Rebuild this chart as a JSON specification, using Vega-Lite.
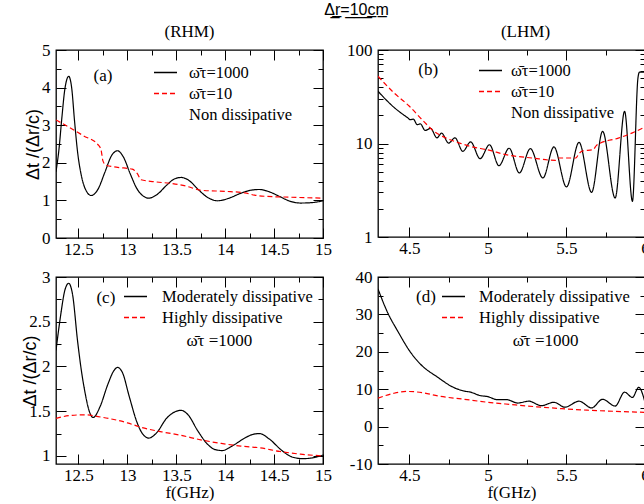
{
  "$schema": "https://vega.github.io/schema/vega-lite/v6.json",
  "background": "white",
  "padding": {"left": 21, "top": 2, "right": 0, "bottom": 0},
  "title": {"text": "Δ̲r̲=̲1̲0̲c̲m̲", "font": "Liberation Sans", "fontSize": 16, "fontWeight": "normal", "color": "black", "anchor": "middle", "offset": 4, "dx": 21},
  "columns": 2,
  "spacing": {"row": 39, "column": 55},
  "bounds": "flush",
  "resolve": {"scale": {"color": "independent", "strokeDash": "independent"}, "legend": {"color": "independent", "strokeDash": "independent"}},
  "datasets": {
    "a": [
      {"s": "ω̄τ=1000", "f": 12.27, "v": 1.76}, {"s": "ω̄τ=1000", "f": 12.30, "v": 2.35}, {"s": "ω̄τ=1000", "f": 12.33, "v": 3.2}, {"s": "ω̄τ=1000", "f": 12.36, "v": 3.95}, {"s": "ω̄τ=1000", "f": 12.40, "v": 4.30}, {"s": "ω̄τ=1000", "f": 12.43, "v": 4.0}, {"s": "ω̄τ=1000", "f": 12.46, "v": 3.1}, {"s": "ω̄τ=1000", "f": 12.49, "v": 2.3}, {"s": "ω̄τ=1000", "f": 12.53, "v": 1.65}, {"s": "ω̄τ=1000", "f": 12.58, "v": 1.25}, {"s": "ω̄τ=1000", "f": 12.63, "v": 1.13}, {"s": "ω̄τ=1000", "f": 12.70, "v": 1.3}, {"s": "ω̄τ=1000", "f": 12.77, "v": 1.75}, {"s": "ω̄τ=1000", "f": 12.84, "v": 2.2}, {"s": "ω̄τ=1000", "f": 12.90, "v": 2.32}, {"s": "ω̄τ=1000", "f": 12.96, "v": 2.15}, {"s": "ω̄τ=1000", "f": 13.03, "v": 1.7}, {"s": "ω̄τ=1000", "f": 13.10, "v": 1.3}, {"s": "ω̄τ=1000", "f": 13.16, "v": 1.12}, {"s": "ω̄τ=1000", "f": 13.22, "v": 1.06}, {"s": "ω̄τ=1000", "f": 13.30, "v": 1.15}, {"s": "ω̄τ=1000", "f": 13.40, "v": 1.4}, {"s": "ω̄τ=1000", "f": 13.48, "v": 1.57}, {"s": "ω̄τ=1000", "f": 13.55, "v": 1.61}, {"s": "ω̄τ=1000", "f": 13.63, "v": 1.53}, {"s": "ω̄τ=1000", "f": 13.72, "v": 1.3}, {"s": "ω̄τ=1000", "f": 13.82, "v": 1.08}, {"s": "ω̄τ=1000", "f": 13.92, "v": 0.99}, {"s": "ω̄τ=1000", "f": 14.03, "v": 1.05}, {"s": "ω̄τ=1000", "f": 14.15, "v": 1.18}, {"s": "ω̄τ=1000", "f": 14.26, "v": 1.27}, {"s": "ω̄τ=1000", "f": 14.35, "v": 1.29}, {"s": "ω̄τ=1000", "f": 14.45, "v": 1.23}, {"s": "ω̄τ=1000", "f": 14.56, "v": 1.1}, {"s": "ω̄τ=1000", "f": 14.66, "v": 0.98}, {"s": "ω̄τ=1000", "f": 14.77, "v": 0.93}, {"s": "ω̄τ=1000", "f": 14.88, "v": 0.94}, {"s": "ω̄τ=1000", "f": 15.0, "v": 0.99},
      {"s": "ω̄τ=10", "f": 12.27, "v": 3.14}, {"s": "ω̄τ=10", "f": 12.40, "v": 2.95}, {"s": "ω̄τ=10", "f": 12.55, "v": 2.72}, {"s": "ω̄τ=10", "f": 12.70, "v": 2.48}, {"s": "ω̄τ=10", "f": 12.73, "v": 2.35}, {"s": "ω̄τ=10", "f": 12.75, "v": 2.05}, {"s": "ω̄τ=10", "f": 12.78, "v": 1.94}, {"s": "ω̄τ=10", "f": 12.90, "v": 1.88}, {"s": "ω̄τ=10", "f": 13.05, "v": 1.83}, {"s": "ω̄τ=10", "f": 13.10, "v": 1.72}, {"s": "ω̄τ=10", "f": 13.14, "v": 1.55}, {"s": "ω̄τ=10", "f": 13.30, "v": 1.49}, {"s": "ω̄τ=10", "f": 13.45, "v": 1.45}, {"s": "ω̄τ=10", "f": 13.60, "v": 1.38}, {"s": "ω̄τ=10", "f": 13.68, "v": 1.32}, {"s": "ω̄τ=10", "f": 13.75, "v": 1.27}, {"s": "ω̄τ=10", "f": 14.00, "v": 1.24}, {"s": "ω̄τ=10", "f": 14.20, "v": 1.20}, {"s": "ω̄τ=10", "f": 14.30, "v": 1.14}, {"s": "ω̄τ=10", "f": 14.40, "v": 1.11}, {"s": "ω̄τ=10", "f": 14.60, "v": 1.09}, {"s": "ω̄τ=10", "f": 15.0, "v": 1.06}
    ],
    "b": [
      {"s": "ω̄τ=1000", "f": 4.30, "v": 36.2}, {"s": "ω̄τ=1000", "f": 4.35, "v": 29.5}, {"s": "ω̄τ=1000", "f": 4.40, "v": 24.5}, {"s": "ω̄τ=1000", "f": 4.45, "v": 21}, {"s": "ω̄τ=1000", "f": 4.49, "v": 18.8}, {"s": "ω̄τ=1000", "f": 4.505, "v": 18.0}, {"s": "ω̄τ=1000", "f": 4.525, "v": 18.2}, {"s": "ω̄τ=1000", "f": 4.55, "v": 15.9}, {"s": "ω̄τ=1000", "f": 4.57, "v": 16.2}, {"s": "ω̄τ=1000", "f": 4.60, "v": 13.8}, {"s": "ω̄τ=1000", "f": 4.635, "v": 14.5}, {"s": "ω̄τ=1000", "f": 4.675, "v": 11.5}, {"s": "ω̄τ=1000", "f": 4.705, "v": 12.9}, {"s": "ω̄τ=1000", "f": 4.75, "v": 10.1}, {"s": "ω̄τ=1000", "f": 4.79, "v": 11.5}, {"s": "ω̄τ=1000", "f": 4.84, "v": 8.25}, {"s": "ω̄τ=1000", "f": 4.89, "v": 10.4}, {"s": "ω̄τ=1000", "f": 4.95, "v": 6.88}, {"s": "ω̄τ=1000", "f": 5.01, "v": 9.7}, {"s": "ω̄τ=1000", "f": 5.07, "v": 5.79}, {"s": "ω̄τ=1000", "f": 5.135, "v": 8.9}, {"s": "ω̄τ=1000", "f": 5.20, "v": 4.84}, {"s": "ω̄τ=1000", "f": 5.27, "v": 8.8}, {"s": "ω̄τ=1000", "f": 5.35, "v": 4.28}, {"s": "ω̄τ=1000", "f": 5.42, "v": 9.2}, {"s": "ω̄τ=1000", "f": 5.50, "v": 3.43}, {"s": "ω̄τ=1000", "f": 5.58, "v": 10.3}, {"s": "ω̄τ=1000", "f": 5.66, "v": 3.0}, {"s": "ω̄τ=1000", "f": 5.73, "v": 13.5}, {"s": "ω̄τ=1000", "f": 5.81, "v": 2.61}, {"s": "ω̄τ=1000", "f": 5.87, "v": 22.1}, {"s": "ω̄τ=1000", "f": 5.92, "v": 2.41}, {"s": "ω̄τ=1000", "f": 5.955, "v": 50}, {"s": "ω̄τ=1000", "f": 5.965, "v": 58}, {"s": "ω̄τ=1000", "f": 6.0, "v": 58},
      {"s": "ω̄τ=10", "f": 4.30, "v": 52.4}, {"s": "ω̄τ=10", "f": 4.40, "v": 35}, {"s": "ω̄τ=10", "f": 4.50, "v": 25}, {"s": "ω̄τ=10", "f": 4.58, "v": 18}, {"s": "ω̄τ=10", "f": 4.65, "v": 13.8}, {"s": "ω̄τ=10", "f": 4.74, "v": 11.3}, {"s": "ω̄τ=10", "f": 4.82, "v": 10.1}, {"s": "ω̄τ=10", "f": 4.90, "v": 9.2}, {"s": "ω̄τ=10", "f": 4.99, "v": 8.6}, {"s": "ω̄τ=10", "f": 5.13, "v": 7.5}, {"s": "ω̄τ=10", "f": 5.28, "v": 7.0}, {"s": "ω̄τ=10", "f": 5.43, "v": 6.6}, {"s": "ω̄τ=10", "f": 5.45, "v": 7.0}, {"s": "ω̄τ=10", "f": 5.56, "v": 7.0}, {"s": "ω̄τ=10", "f": 5.58, "v": 7.8}, {"s": "ω̄τ=10", "f": 5.60, "v": 8.3}, {"s": "ω̄τ=10", "f": 5.67, "v": 8.6}, {"s": "ω̄τ=10", "f": 5.69, "v": 9.5}, {"s": "ω̄τ=10", "f": 5.71, "v": 10.0}, {"s": "ω̄τ=10", "f": 5.83, "v": 11.4}, {"s": "ω̄τ=10", "f": 5.92, "v": 13}, {"s": "ω̄τ=10", "f": 6.0, "v": 15}
    ],
    "c": [
      {"s": "Moderately dissipative", "f": 12.27, "v": 2.18}, {"s": "Moderately dissipative", "f": 12.32, "v": 2.59}, {"s": "Moderately dissipative", "f": 12.36, "v": 2.85}, {"s": "Moderately dissipative", "f": 12.40, "v": 2.93}, {"s": "Moderately dissipative", "f": 12.44, "v": 2.8}, {"s": "Moderately dissipative", "f": 12.49, "v": 2.29}, {"s": "Moderately dissipative", "f": 12.53, "v": 1.95}, {"s": "Moderately dissipative", "f": 12.57, "v": 1.69}, {"s": "Moderately dissipative", "f": 12.61, "v": 1.5}, {"s": "Moderately dissipative", "f": 12.65, "v": 1.43}, {"s": "Moderately dissipative", "f": 12.72, "v": 1.55}, {"s": "Moderately dissipative", "f": 12.80, "v": 1.8}, {"s": "Moderately dissipative", "f": 12.86, "v": 1.95}, {"s": "Moderately dissipative", "f": 12.90, "v": 1.99}, {"s": "Moderately dissipative", "f": 12.95, "v": 1.93}, {"s": "Moderately dissipative", "f": 13.02, "v": 1.66}, {"s": "Moderately dissipative", "f": 13.10, "v": 1.37}, {"s": "Moderately dissipative", "f": 13.16, "v": 1.24}, {"s": "Moderately dissipative", "f": 13.22, "v": 1.20}, {"s": "Moderately dissipative", "f": 13.30, "v": 1.26}, {"s": "Moderately dissipative", "f": 13.40, "v": 1.42}, {"s": "Moderately dissipative", "f": 13.48, "v": 1.49}, {"s": "Moderately dissipative", "f": 13.55, "v": 1.51}, {"s": "Moderately dissipative", "f": 13.62, "v": 1.46}, {"s": "Moderately dissipative", "f": 13.72, "v": 1.28}, {"s": "Moderately dissipative", "f": 13.82, "v": 1.13}, {"s": "Moderately dissipative", "f": 13.90, "v": 1.07}, {"s": "Moderately dissipative", "f": 13.97, "v": 1.06}, {"s": "Moderately dissipative", "f": 14.07, "v": 1.11}, {"s": "Moderately dissipative", "f": 14.20, "v": 1.2}, {"s": "Moderately dissipative", "f": 14.28, "v": 1.24}, {"s": "Moderately dissipative", "f": 14.35, "v": 1.25}, {"s": "Moderately dissipative", "f": 14.45, "v": 1.19}, {"s": "Moderately dissipative", "f": 14.58, "v": 1.06}, {"s": "Moderately dissipative", "f": 14.68, "v": 0.99}, {"s": "Moderately dissipative", "f": 14.79, "v": 0.97}, {"s": "Moderately dissipative", "f": 14.90, "v": 0.98}, {"s": "Moderately dissipative", "f": 15.0, "v": 1.01},
      {"s": "Highly dissipative", "f": 12.27, "v": 1.42}, {"s": "Highly dissipative", "f": 12.40, "v": 1.45}, {"s": "Highly dissipative", "f": 12.56, "v": 1.46}, {"s": "Highly dissipative", "f": 12.70, "v": 1.44}, {"s": "Highly dissipative", "f": 12.85, "v": 1.41}, {"s": "Highly dissipative", "f": 13.0, "v": 1.37}, {"s": "Highly dissipative", "f": 13.14, "v": 1.32}, {"s": "Highly dissipative", "f": 13.35, "v": 1.27}, {"s": "Highly dissipative", "f": 13.55, "v": 1.23}, {"s": "Highly dissipative", "f": 13.75, "v": 1.18}, {"s": "Highly dissipative", "f": 13.96, "v": 1.14}, {"s": "Highly dissipative", "f": 14.16, "v": 1.11}, {"s": "Highly dissipative", "f": 14.36, "v": 1.09}, {"s": "Highly dissipative", "f": 14.56, "v": 1.05}, {"s": "Highly dissipative", "f": 14.77, "v": 1.02}, {"s": "Highly dissipative", "f": 15.0, "v": 1.0}
    ],
    "d": [
      {"s": "Moderately dissipative", "f": 4.30, "v": 36.8}, {"s": "Moderately dissipative", "f": 4.36, "v": 30.6}, {"s": "Moderately dissipative", "f": 4.43, "v": 25.2}, {"s": "Moderately dissipative", "f": 4.50, "v": 20.3}, {"s": "Moderately dissipative", "f": 4.57, "v": 16.7}, {"s": "Moderately dissipative", "f": 4.68, "v": 13.2}, {"s": "Moderately dissipative", "f": 4.78, "v": 10.5}, {"s": "Moderately dissipative", "f": 4.85, "v": 9.5}, {"s": "Moderately dissipative", "f": 4.89, "v": 9.2}, {"s": "Moderately dissipative", "f": 4.95, "v": 8.3}, {"s": "Moderately dissipative", "f": 5.00, "v": 8.0}, {"s": "Moderately dissipative", "f": 5.06, "v": 7.2}, {"s": "Moderately dissipative", "f": 5.12, "v": 7.2}, {"s": "Moderately dissipative", "f": 5.19, "v": 6.3}, {"s": "Moderately dissipative", "f": 5.26, "v": 6.8}, {"s": "Moderately dissipative", "f": 5.34, "v": 5.6}, {"s": "Moderately dissipative", "f": 5.42, "v": 6.5}, {"s": "Moderately dissipative", "f": 5.49, "v": 5.2}, {"s": "Moderately dissipative", "f": 5.58, "v": 6.8}, {"s": "Moderately dissipative", "f": 5.66, "v": 5.0}, {"s": "Moderately dissipative", "f": 5.73, "v": 7.3}, {"s": "Moderately dissipative", "f": 5.81, "v": 5.5}, {"s": "Moderately dissipative", "f": 5.87, "v": 9.2}, {"s": "Moderately dissipative", "f": 5.92, "v": 7.8}, {"s": "Moderately dissipative", "f": 5.96, "v": 10.5}, {"s": "Moderately dissipative", "f": 6.0, "v": 6.5},
      {"s": "Highly dissipative", "f": 4.30, "v": 7.6}, {"s": "Highly dissipative", "f": 4.40, "v": 8.9}, {"s": "Highly dissipative", "f": 4.48, "v": 9.4}, {"s": "Highly dissipative", "f": 4.58, "v": 9.1}, {"s": "Highly dissipative", "f": 4.68, "v": 8.2}, {"s": "Highly dissipative", "f": 4.85, "v": 7.3}, {"s": "Highly dissipative", "f": 5.0, "v": 6.5}, {"s": "Highly dissipative", "f": 5.15, "v": 5.9}, {"s": "Highly dissipative", "f": 5.31, "v": 5.3}, {"s": "Highly dissipative", "f": 5.47, "v": 4.8}, {"s": "Highly dissipative", "f": 5.63, "v": 4.4}, {"s": "Highly dissipative", "f": 5.8, "v": 4.1}, {"s": "Highly dissipative", "f": 6.0, "v": 3.8}
    ],
    "labels": [
      {"p": "a", "f": 12.75, "v": 4.32, "t": "(a)"}, {"p": "b", "f": 4.62, "v": 61.5, "t": "(b)"},
      {"p": "c", "f": 12.78, "v": 2.77, "t": "(c)"}, {"p": "c", "f": 13.94, "v": 2.28, "t": "ω̄τ =1000"},
      {"p": "d", "f": 4.605, "v": 34.6, "t": "(d)"}, {"p": "d", "f": 5.367, "v": 22.9, "t": "ω̄τ =1000"}
    ]
  },
  "concat": [
    {
      "width": 267, "height": 188,
      "title": {"text": "(RHM)", "font": "Liberation Serif", "fontSize": 17, "fontWeight": "normal", "color": "black", "offset": 0},
      "data": {"name": "a"},
      "layer": [
        {"mark": {"type": "line", "interpolate": "monotone", "strokeWidth": 1.2, "clip": true},
         "encoding": {
           "x": {"field": "f", "type": "quantitative", "scale": {"domain": [12.27, 15], "nice": false, "zero": false}, "axis": {"orient": "bottom", "values": [12.5, 13, 13.5, 14, 14.5, 15], "tickSize": -10, "labelPadding": 13, "title": null}},
           "y": {"field": "v", "type": "quantitative", "scale": {"domain": [0, 5], "nice": false, "zero": false}, "axis": {"orient": "left", "values": [0, 1, 2, 3, 4, 5], "tickSize": -10, "labelPadding": 16, "title": "Δt /(Δr/c)", "titlePadding": -1}},
           "color": {"field": "s", "type": "nominal", "scale": {"domain": ["ω̄τ=1000", "ω̄τ=10", "Non dissipative"], "range": ["black", "red", "transparent"]}, "legend": {"orient": "none", "legendX": 97, "legendY": 10, "title": null, "labelOffset": 11}},
           "strokeDash": {"field": "s", "type": "nominal", "scale": {"domain": ["ω̄τ=1000", "ω̄τ=10", "Non dissipative"], "range": [[1, 0], [5, 3], [1, 0]]}, "legend": {"orient": "none", "legendX": 97, "legendY": 10, "title": null, "labelOffset": 11}}
         }},
        {"data": {"name": "labels"}, "transform": [{"filter": "datum.p === 'a'"}], "mark": {"type": "text", "font": "Liberation Serif", "fontSize": 17, "color": "black"}, "encoding": {"x": {"field": "f", "type": "quantitative", "axis": null}, "y": {"field": "v", "type": "quantitative", "axis": null}, "text": {"field": "t"}}},
        {"mark": {"type": "line", "opacity": 0}, "encoding": {"x": {"field": "f", "type": "quantitative", "axis": {"orient": "top", "values": [12.5, 13, 13.5, 14, 14.5, 15], "tickSize": -10, "labels": false, "title": null}}, "y": {"field": "v", "type": "quantitative", "axis": {"orient": "right", "values": [0, 1, 2, 3, 4, 5], "tickSize": -10, "labels": false, "title": null}}}},
        {"mark": {"type": "line", "opacity": 0}, "encoding": {"x": {"field": "f", "type": "quantitative", "axis": {"orient": "bottom", "values": [12.75, 13.25, 13.75, 14.25, 14.75], "tickSize": -5, "labels": false, "title": null}}, "y": {"field": "v", "type": "quantitative", "axis": {"orient": "left", "values": [0.5, 1.5, 2.5, 3.5, 4.5], "tickSize": -5, "labels": false, "title": null}}}},
        {"mark": {"type": "line", "opacity": 0}, "encoding": {"x": {"field": "f", "type": "quantitative", "axis": {"orient": "top", "values": [12.75, 13.25, 13.75, 14.25, 14.75], "tickSize": -5, "labels": false, "title": null}}, "y": {"field": "v", "type": "quantitative", "axis": {"orient": "right", "values": [0.5, 1.5, 2.5, 3.5, 4.5], "tickSize": -5, "labels": false, "title": null}}}}
      ],
      "resolve": {"axis": {"x": "independent", "y": "independent"}}
    },
    {
      "width": 267, "height": 187,
      "title": {"text": "(LHM)", "font": "Liberation Serif", "fontSize": 17, "fontWeight": "normal", "color": "black", "offset": 0, "dx": 14},
      "data": {"name": "b"},
      "layer": [
        {"mark": {"type": "line", "interpolate": "monotone", "strokeWidth": 1.2, "clip": true},
         "encoding": {
           "x": {"field": "f", "type": "quantitative", "scale": {"domain": [4.3, 6.0], "nice": false, "zero": false}, "axis": {"orient": "bottom", "values": [4.5, 5, 5.5, 6], "tickSize": -10, "labelPadding": 13, "title": null}},
           "y": {"field": "v", "type": "quantitative", "scale": {"type": "log", "domain": [1, 100], "nice": false}, "axis": {"orient": "left", "values": [1, 10, 100], "tickSize": -10, "labelPadding": 16, "title": null}},
           "color": {"field": "s", "type": "nominal", "scale": {"domain": ["ω̄τ=1000", "ω̄τ=10", "Non dissipative"], "range": ["black", "red", "transparent"]}, "legend": {"orient": "none", "legendX": 100, "legendY": 8, "title": null, "labelOffset": 8}},
           "strokeDash": {"field": "s", "type": "nominal", "scale": {"domain": ["ω̄τ=1000", "ω̄τ=10", "Non dissipative"], "range": [[1, 0], [5, 3], [1, 0]]}, "legend": {"orient": "none", "legendX": 100, "legendY": 8, "title": null, "labelOffset": 8}}
         }},
        {"data": {"name": "labels"}, "transform": [{"filter": "datum.p === 'b'"}], "mark": {"type": "text", "font": "Liberation Serif", "fontSize": 17, "color": "black"}, "encoding": {"x": {"field": "f", "type": "quantitative", "axis": null}, "y": {"field": "v", "type": "quantitative", "axis": null}, "text": {"field": "t"}}},
        {"mark": {"type": "line", "opacity": 0}, "encoding": {"x": {"field": "f", "type": "quantitative", "axis": {"orient": "top", "values": [4.5, 5, 5.5, 6], "tickSize": -10, "labels": false, "title": null}}, "y": {"field": "v", "type": "quantitative", "axis": {"orient": "right", "values": [1, 10, 100], "tickSize": -10, "labels": false, "title": null}}}},
        {"mark": {"type": "line", "opacity": 0}, "encoding": {"x": {"field": "f", "type": "quantitative", "axis": {"orient": "bottom", "values": [4.75, 5.25, 5.75], "tickSize": -5, "labels": false, "title": null}}, "y": {"field": "v", "type": "quantitative", "axis": {"orient": "left", "values": [2, 3, 4, 5, 6, 7, 8, 9, 20, 30, 40, 50, 60, 70, 80, 90], "tickSize": -5, "labels": false, "title": null}}}},
        {"mark": {"type": "line", "opacity": 0}, "encoding": {"x": {"field": "f", "type": "quantitative", "axis": {"orient": "top", "values": [4.75, 5.25, 5.75], "tickSize": -5, "labels": false, "title": null}}, "y": {"field": "v", "type": "quantitative", "axis": {"orient": "right", "values": [2, 3, 4, 5, 6, 7, 8, 9, 20, 30, 40, 50, 60, 70, 80, 90], "tickSize": -5, "labels": false, "title": null}}}}
      ],
      "resolve": {"axis": {"x": "independent", "y": "independent"}}
    },
    {
      "width": 267, "height": 187,
      "data": {"name": "c"},
      "layer": [
        {"mark": {"type": "line", "interpolate": "monotone", "strokeWidth": 1.2, "clip": true},
         "encoding": {
           "x": {"field": "f", "type": "quantitative", "scale": {"domain": [12.27, 15], "nice": false, "zero": false}, "axis": {"orient": "bottom", "values": [12.5, 13, 13.5, 14, 14.5, 15], "tickSize": -10, "labelPadding": 13, "title": "f(GHz)", "titlePadding": 1}},
           "y": {"field": "v", "type": "quantitative", "scale": {"domain": [0.91, 3], "nice": false, "zero": false}, "axis": {"orient": "left", "values": [1, 1.5, 2, 2.5, 3], "tickSize": -10, "labelPadding": 16, "title": "Δt /(Δr/c)", "titlePadding": -11}},
           "color": {"field": "s", "type": "nominal", "scale": {"domain": ["Moderately dissipative", "Highly dissipative"], "range": ["black", "red"]}, "legend": {"orient": "none", "legendX": 67, "legendY": 7, "title": null, "labelOffset": 14}},
           "strokeDash": {"field": "s", "type": "nominal", "scale": {"domain": ["Moderately dissipative", "Highly dissipative"], "range": [[1, 0], [5, 3]]}, "legend": {"orient": "none", "legendX": 67, "legendY": 7, "title": null, "labelOffset": 14}}
         }},
        {"data": {"name": "labels"}, "transform": [{"filter": "datum.p === 'c'"}], "mark": {"type": "text", "font": "Liberation Serif", "fontSize": 17, "color": "black"}, "encoding": {"x": {"field": "f", "type": "quantitative", "axis": null}, "y": {"field": "v", "type": "quantitative", "axis": null}, "text": {"field": "t"}}},
        {"mark": {"type": "line", "opacity": 0}, "encoding": {"x": {"field": "f", "type": "quantitative", "axis": {"orient": "top", "values": [12.5, 13, 13.5, 14, 14.5, 15], "tickSize": -10, "labels": false, "title": null}}, "y": {"field": "v", "type": "quantitative", "axis": {"orient": "right", "values": [1, 1.5, 2, 2.5, 3], "tickSize": -10, "labels": false, "title": null}}}},
        {"mark": {"type": "line", "opacity": 0}, "encoding": {"x": {"field": "f", "type": "quantitative", "axis": {"orient": "bottom", "values": [12.75, 13.25, 13.75, 14.25, 14.75], "tickSize": -5, "labels": false, "title": null}}, "y": {"field": "v", "type": "quantitative", "axis": {"orient": "left", "values": [1.25, 1.75, 2.25, 2.75], "tickSize": -5, "labels": false, "title": null}}}},
        {"mark": {"type": "line", "opacity": 0}, "encoding": {"x": {"field": "f", "type": "quantitative", "axis": {"orient": "top", "values": [12.75, 13.25, 13.75, 14.25, 14.75], "tickSize": -5, "labels": false, "title": null}}, "y": {"field": "v", "type": "quantitative", "axis": {"orient": "right", "values": [1.25, 1.75, 2.25, 2.75], "tickSize": -5, "labels": false, "title": null}}}}
      ],
      "resolve": {"axis": {"x": "independent", "y": "independent"}}
    },
    {
      "width": 267, "height": 187,
      "data": {"name": "d"},
      "layer": [
        {"mark": {"type": "line", "interpolate": "monotone", "strokeWidth": 1.2, "clip": true},
         "encoding": {
           "x": {"field": "f", "type": "quantitative", "scale": {"domain": [4.3, 6.0], "nice": false, "zero": false}, "axis": {"orient": "bottom", "values": [4.5, 5, 5.5, 6], "tickSize": -10, "labelPadding": 13, "title": "f(GHz)", "titlePadding": 1}},
           "y": {"field": "v", "type": "quantitative", "scale": {"domain": [-10, 40], "nice": false, "zero": false}, "axis": {"orient": "left", "values": [-10, 0, 10, 20, 30, 40], "tickSize": -10, "labelPadding": 16, "title": null}},
           "color": {"field": "s", "type": "nominal", "scale": {"domain": ["Moderately dissipative", "Highly dissipative"], "range": ["black", "red"]}, "legend": {"orient": "none", "legendX": 63, "legendY": 7, "title": null, "labelOffset": 13}},
           "strokeDash": {"field": "s", "type": "nominal", "scale": {"domain": ["Moderately dissipative", "Highly dissipative"], "range": [[1, 0], [5, 3]]}, "legend": {"orient": "none", "legendX": 63, "legendY": 7, "title": null, "labelOffset": 13}}
         }},
        {"data": {"name": "labels"}, "transform": [{"filter": "datum.p === 'd'"}], "mark": {"type": "text", "font": "Liberation Serif", "fontSize": 17, "color": "black"}, "encoding": {"x": {"field": "f", "type": "quantitative", "axis": null}, "y": {"field": "v", "type": "quantitative", "axis": null}, "text": {"field": "t"}}},
        {"mark": {"type": "line", "opacity": 0}, "encoding": {"x": {"field": "f", "type": "quantitative", "axis": {"orient": "top", "values": [4.5, 5, 5.5, 6], "tickSize": -10, "labels": false, "title": null}}, "y": {"field": "v", "type": "quantitative", "axis": {"orient": "right", "values": [-10, 0, 10, 20, 30, 40], "tickSize": -10, "labels": false, "title": null}}}},
        {"mark": {"type": "line", "opacity": 0}, "encoding": {"x": {"field": "f", "type": "quantitative", "axis": {"orient": "bottom", "values": [4.75, 5.25, 5.75], "tickSize": -5, "labels": false, "title": null}}, "y": {"field": "v", "type": "quantitative", "axis": {"orient": "left", "values": [-5, 5, 15, 25, 35], "tickSize": -5, "labels": false, "title": null}}}},
        {"mark": {"type": "line", "opacity": 0}, "encoding": {"x": {"field": "f", "type": "quantitative", "axis": {"orient": "top", "values": [4.75, 5.25, 5.75], "tickSize": -5, "labels": false, "title": null}}, "y": {"field": "v", "type": "quantitative", "axis": {"orient": "right", "values": [-5, 5, 15, 25, 35], "tickSize": -5, "labels": false, "title": null}}}}
      ],
      "resolve": {"axis": {"x": "independent", "y": "independent"}}
    }
  ],
  "config": {
    "view": {"stroke": "black", "strokeWidth": 1.3},
    "axis": {"domain": false, "grid": false, "tickColor": "black", "tickWidth": 1, "labelFont": "Liberation Serif", "labelFontSize": 17, "labelColor": "black", "labelExpr": "'' + datum.value", "titleFont": "Liberation Serif", "titleFontSize": 17, "titleFontWeight": "normal", "titleColor": "black", "labelFlush": false, "labelOverlap": false},
    "axisY": {"titleFont": "Liberation Sans", "titleFontSize": 18},
    "legend": {"symbolType": "stroke", "symbolSize": 529, "symbolStrokeWidth": 1.4, "labelFont": "Liberation Serif", "labelFontSize": 16.5, "labelColor": "black", "rowPadding": 0, "padding": 0, "labelLimit": 400}
  }
}
